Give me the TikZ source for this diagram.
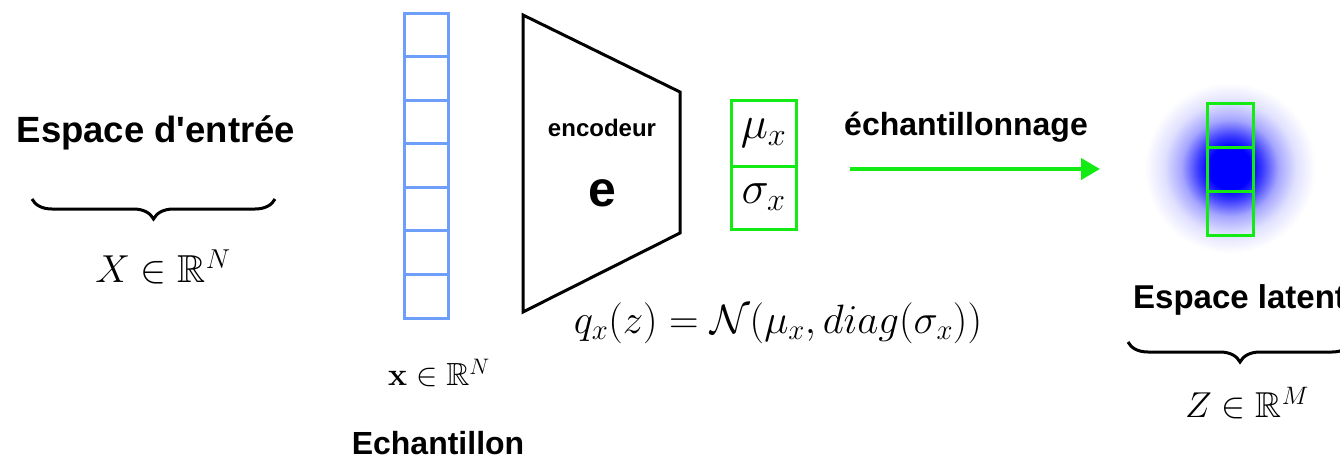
\RequirePackage{fix-cm}
\documentclass[tikz,border=0pt]{standalone}
\usepackage{amsmath,amssymb}
\usepackage[no-math]{fontspec}
\setmainfont{Liberation Sans}[Ligatures=TeXOff]
\usetikzlibrary{arrows.meta,decorations.pathreplacing}
\definecolor{cellblue}{RGB}{108,158,250}
\definecolor{vgreen}{RGB}{20,235,20}
\pgfdeclareradialshading{blob}{\pgfpoint{0bp}{0bp}}{color(0bp)=(blue); color(5.5bp)=(blue); color(8.5bp)=(blue!75); color(12.5bp)=(blue!35); color(17bp)=(blue!12); color(22bp)=(white); color(25bp)=(white); color(50bp)=(white)}
\tikzset{
  cellb/.style={draw=cellblue, line width=3pt, minimum width=44pt, minimum height=43.57pt, inner sep=0pt, outer sep=0pt},
  cellg/.style={draw=vgreen, line width=3pt, minimum width=46pt, minimum height=44pt, inner sep=0pt, outer sep=0pt},
  gbox/.style={draw=vgreen, line width=3pt, minimum width=65pt, inner sep=0pt, outer sep=0pt},
  lbl/.style={font=\bfseries\fontsize{#1}{#1}\selectfont, inner sep=0pt},
  mth/.style={font=\fontsize{#1}{#1}\selectfont, inner sep=0pt},
  bracestyle/.style={decorate, decoration={brace, amplitude=20pt, mirror}, line width=3pt},
}
\begin{document}
\begin{tikzpicture}[x=1pt,y=-1pt]
\useasboundingbox (0,0) rectangle (1340,459);
% input space
\node[lbl=36.5] (espin) at (156,133) {Espace d'entrée};
\coordinate (b1l) at (32,199);
\coordinate (b1r) at (275,199);
\draw[bracestyle] (b1l) -- (b1r);
\node[mth=39] (Xin) at (163,267) {$X\in\mathbb{R}^N$};
% sample vector
\foreach \i in {0,...,6}
  \node[cellb] (c\i) at (426,{13+43.57*(\i+0.5)}) {};
\node[mth=32] (xin) at (439,373) {$\mathbf{x}\in\mathbb{R}^N$};
\node[lbl=32] (ech) at (438,443) {Echantillon};
% encoder
\draw[line width=3pt, line join=miter] (523,15) -- (680,92) -- (680,233) -- (523,312) -- cycle;
\node[lbl=24] (enc) at (602,128) {encodeur};
\node[lbl=50] (e) at (602,193) {e};
% mu sigma
\node[gbox, minimum height=66pt] (mu) at (763.5,133) {\fontsize{46}{46}\selectfont$\mu_x$};
\node[gbox, minimum height=63pt, anchor=north] (sig) at (mu.south) {\fontsize{46}{46}\selectfont$\sigma_x$};
\node[mth=41] (form) at (778,323) {$q_x(z)=\mathcal{N}(\mu_x,diag(\sigma_x))$};
% sampling arrow
\node[lbl=32] (samp) at (966,127) {échantillonnage};
\coordinate (a1) at (850,169);
\coordinate (a2) at (1100,169);
\draw[vgreen, line width=4pt, -{Triangle[length=19pt,width=21pt]}] (a1) -- (a2);
% latent
\shade[shading=blob] (1230,168) circle (97);
\foreach \i in {0,1,2}
  \node[cellg] (z\i) at (1230,{125+44*\i}) {};
\node[lbl=33, anchor=west] (esplat) at (1133,300) {Espace latent};
\coordinate (b2l) at (1128,342);
\coordinate (b2r) at (1352,342);
\draw[bracestyle] (b2l) -- (b2r);
\node[mth=36] (Zin) at (1247,403) {$Z\in\mathbb{R}^M$};
\end{tikzpicture}
\end{document}
